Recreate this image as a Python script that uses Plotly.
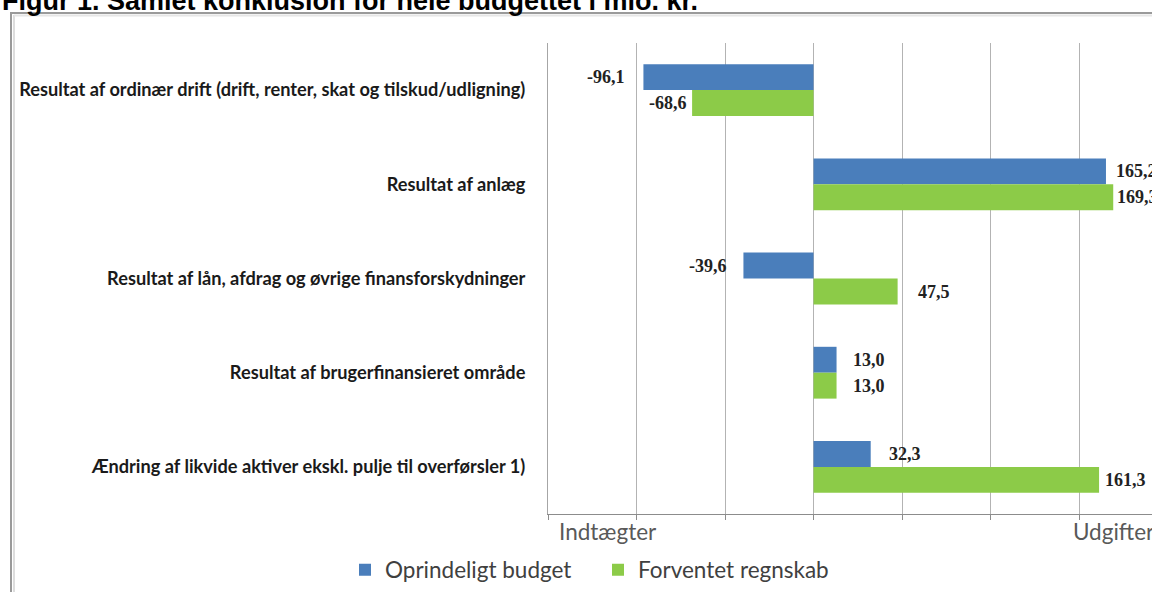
import plotly.graph_objects as go

# ---- data ----
categories = [
    "Resultat af ordinær drift (drift, renter, skat og tilskud/udligning)",
    "Resultat af anlæg",
    "Resultat af lån, afdrag og øvrige finansforskydninger",
    "Resultat af brugerfinansieret område",
    "Ændring af likvide aktiver ekskl. pulje til overførsler 1)",
]
oprindeligt_budget = [-96.1, 165.2, -39.6, 13.0, 32.3]
forventet_regnskab = [-68.6, 169.3, 47.5, 13.0, 161.3]
series_names = ["Oprindeligt budget", "Forventet regnskab"]
title_text = "Figur 1. Samlet konklusion for hele budgettet i mio. kr."
axis_left_label = "Indtægter"
axis_right_label = "Udgifter"

# ---- styling ----
W, H = 1152, 592
L, R, T, B = 548, 1152, 43, 514
BLUE = "#4A7EBB"
GREEN = "#8CCB48"

def px2paper_x(px):
    return (px - L) / (R - L)

def px2paper_y(py):
    return (B - py) / (B - T)

def fmt(v):
    return f"{v:.1f}".replace(".", ",")

fig = go.Figure()
fig.add_trace(go.Bar(y=categories, x=oprindeligt_budget, name=series_names[0],
                     orientation="h", marker=dict(color=BLUE, line=dict(width=0))))
fig.add_trace(go.Bar(y=categories, x=forventet_regnskab, name=series_names[1],
                     orientation="h", marker=dict(color=GREEN, line=dict(width=0))))

annotations = []
label_font = dict(family="Liberation Serif", size=18, color="#222222")
gaps_blue = [16, 8, 14, 14, 16]
gaps_green = [3, 2, 18, 14, 4]
for series, shift_y, gaps in ((oprindeligt_budget, 13, gaps_blue), (forventet_regnskab, -13, gaps_green)):
    for cat, v, g in zip(categories, series, gaps):
        annotations.append(dict(
            x=v, y=cat, xref="x", yref="y", text="<b>" + fmt(v) + "</b>",
            showarrow=False, xanchor="left" if v >= 0 else "right",
            xshift=g if v >= 0 else -g, yshift=shift_y, font=label_font))

# title (partly cut at top)
annotations.append(dict(
    x=px2paper_x(0), y=px2paper_y(18), xref="paper", yref="paper",
    text="<b>" + title_text + "</b>", showarrow=False, xanchor="left", yanchor="bottom",
    font=dict(family="Liberation Sans", size=27, color="#000000")))

# axis end labels
axis_font = dict(family="Lato", size=22.5, color="#595959")
annotations.append(dict(x=px2paper_x(608), y=px2paper_y(531), xref="paper", yref="paper",
                        text=axis_left_label, showarrow=False, xanchor="center", yanchor="middle",
                        font=axis_font))
annotations.append(dict(x=px2paper_x(1071), y=px2paper_y(531), xref="paper", yref="paper",
                        text=axis_right_label, showarrow=False, xanchor="left", yanchor="middle",
                        font=axis_font))

shapes = [
    # chart frame
    dict(type="rect", xref="paper", yref="paper",
         x0=px2paper_x(11), x1=px2paper_x(1170), y0=px2paper_y(620), y1=px2paper_y(13),
         line=dict(color="#9a9a9a", width=2), fillcolor="rgba(0,0,0,0)", layer="below"),
    dict(type="line", xref="paper", yref="paper",
         x0=px2paper_x(14), x1=px2paper_x(14), y0=px2paper_y(620), y1=px2paper_y(15),
         line=dict(color="#dddddd", width=2), layer="below"),
    dict(type="line", xref="paper", yref="paper",
         x0=px2paper_x(14), x1=px2paper_x(1170), y0=px2paper_y(15.5), y1=px2paper_y(15.5),
         line=dict(color="#e6e6e6", width=2), layer="below"),
]

fig.update_layout(
    width=W, height=H,
    margin=dict(l=L, r=W - R, t=T, b=H - B, pad=0),
    paper_bgcolor="white", plot_bgcolor="white",
    barmode="group", bargap=0.45, bargroupgap=0,
    showlegend=True,
    legend=dict(orientation="h", x=px2paper_x(345), y=px2paper_y(570),
                xanchor="left", yanchor="middle",
                font=dict(family="Lato", size=22.5, color="#404040"),
                itemwidth=30, entrywidth=208, entrywidthmode="pixels",
                traceorder="normal", bgcolor="rgba(0,0,0,0)"),
    annotations=annotations,
    shapes=shapes,
    xaxis=dict(range=[-150, 191.2], tick0=0, dtick=50, showticklabels=False,
               showgrid=True, gridcolor="#b3b3b3", gridwidth=1,
               zeroline=True, zerolinecolor="#b3b3b3", zerolinewidth=1,
               showline=True, linecolor="#8c8c8c", linewidth=1,
               ticks="outside", ticklen=5, tickcolor="#8c8c8c"),
    yaxis=dict(autorange="reversed", showgrid=False, zeroline=False,
               showline=True, linecolor="#a6a6a6", linewidth=1,
               ticks="outside", ticklen=18, tickcolor="rgba(0,0,0,0)",
               tickfont=dict(family="Lato", size=18.2, color="#1a1a1a", weight="bold")),
)

fig.write_html("out.html", config={"displayModeBar": False},
               post_script="document.body.style.margin='0';document.body.style.overflow='hidden';")
